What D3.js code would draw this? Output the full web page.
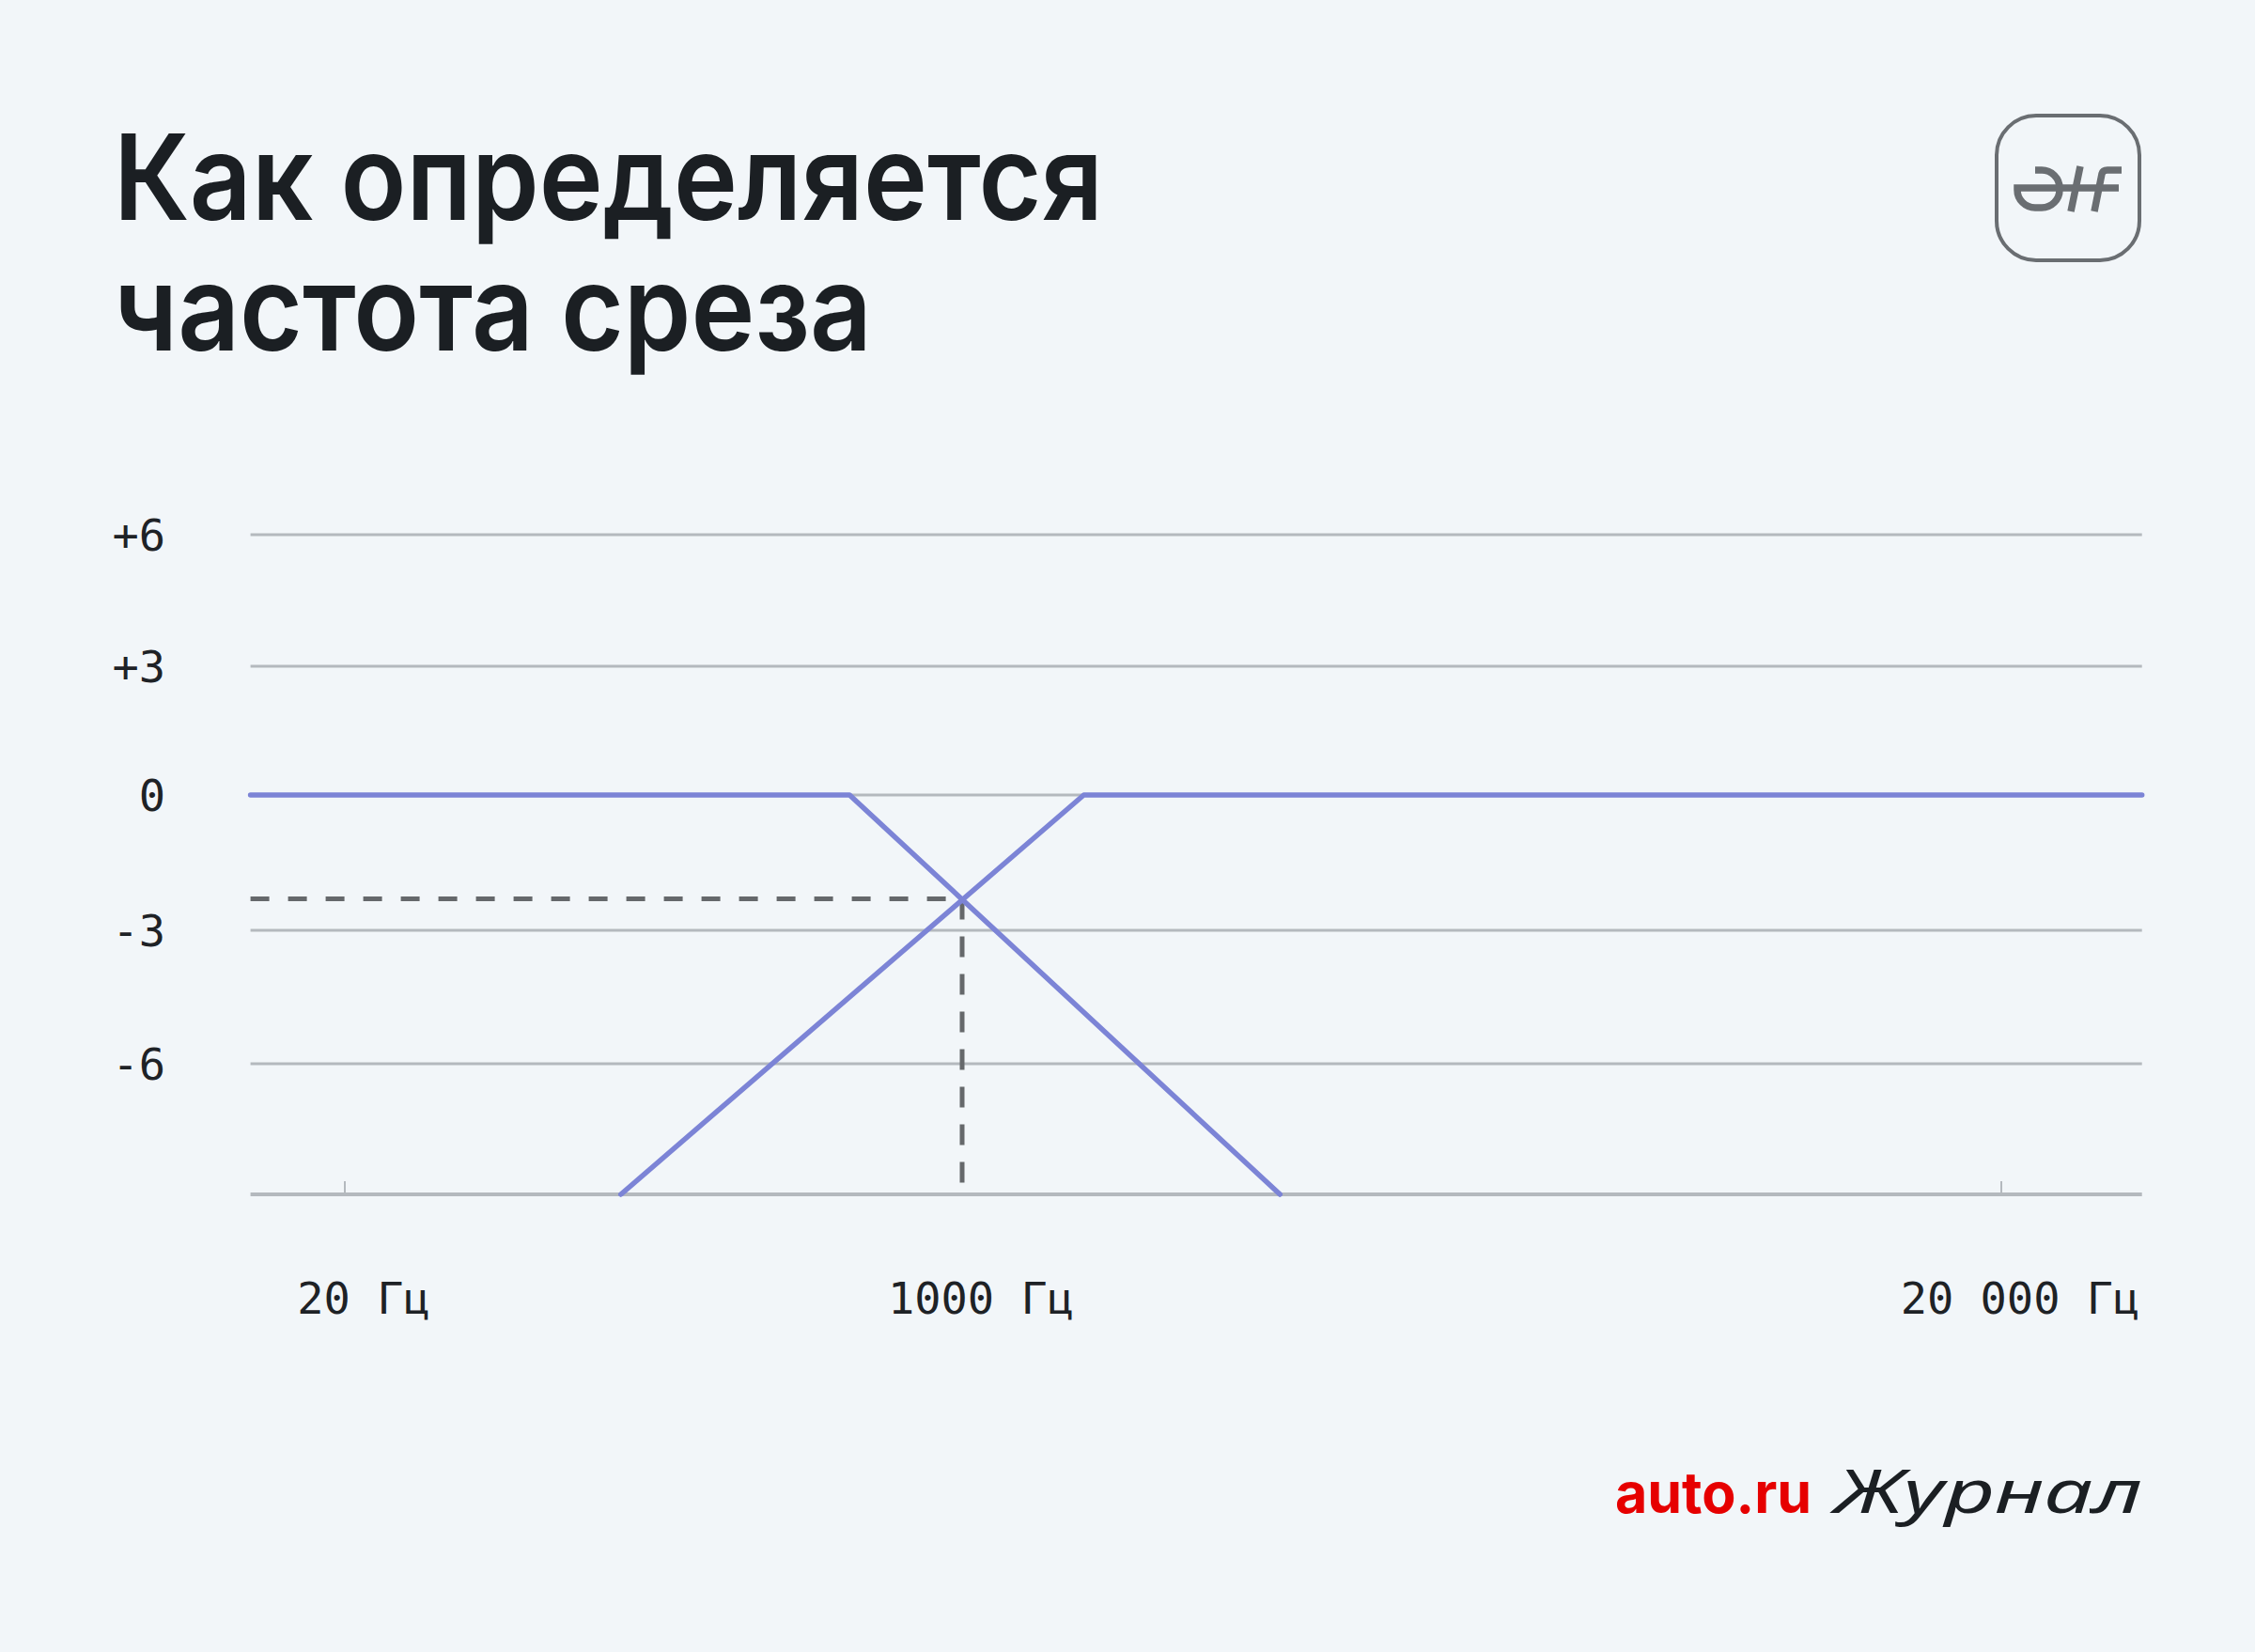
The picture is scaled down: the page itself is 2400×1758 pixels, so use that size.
<!DOCTYPE html>
<html>
<head>
<meta charset="utf-8">
<style>
    body { margin: 0; background: #f2f6f9; }
    svg { display: block; }
    .title { font-family: Inter, "Noto Sans", sans-serif; font-weight: 600; font-size: 127px; fill: #1b1f23; }
    .tick-label { font-family: "DejaVu Sans Mono", monospace; font-size: 47px; fill: #1e2226; }
    .grid line { stroke: #b4b9be; stroke-width: 3px; }
</style>
</head>
<body>
<script src="https://cdn.jsdelivr.net/npm/d3@7"></script>
<script>
    // data
    let titleLines = ["Как определяется", "частота среза"];

    let yTicks = [6, 3, 0, -3, -6];
    let yTickLabels = ["+6", "+3", "0", "-3", "-6"];
    let yMin = -9;

    let xMin = 11, xMax = 30000;              // Hz, edges of the plot
    let xTicks = [20, 1000, 20000];
    let xTickLabels = ["20 Гц", "1000 Гц", "20 000 Гц"];
    let xTickMarks = [20, 20000];

    // [Hz, dB]
    let lowPass  = [[11, 0], [490, 0], [2500, -9]];
    let highPass = [[115, -9], [1420, 0], [30000, 0]];
    let cutoff   = [1000, -2.3];

    let w = 2400, h = 1758;

    let svg = d3.select("body").append("svg")
        .attr("width", w)
        .attr("height", h);

    svg.append("rect").attr("width", w).attr("height", h).attr("fill", "#f2f6f9");

    // title, squeezed to the narrower face of the original
    let titleWidths = [1053, 807];
    svg.append("g").selectAll("text")
        .data(titleLines)
        .enter().append("text")
            .attr("class", "title")
            .attr("x", 121)
            .attr("y", function(d, i) { return 234 + i * 139; })
            .attr("textLength", function(d, i) { return titleWidths[i]; })
            .attr("lengthAdjust", "spacingAndGlyphs")
            .text(function(d) { return d; });

    // scales: the picture is schematic, so both axes are piecewise
    let x = d3.scaleLog()
        .domain([20, 1000, 20000])
        .range([367, 1024, 2130]);
    let y = d3.scaleLinear()
        .domain([-9, -6, -3, 0, 3, 6])
        .range([1271, 1132, 990, 846, 709, 569]);

    let x0 = x(xMin), x1 = x(xMax);

    // grid
    let grid = svg.append("g").attr("class", "grid");
    grid.selectAll("line")
        .data(yTicks)
        .enter().append("line")
            .attr("x1", x0).attr("x2", x1)
            .attr("y1", function(d) { return y(d); })
            .attr("y2", function(d) { return y(d); });

    // bottom axis
    svg.append("line")
        .attr("x1", x0).attr("x2", x1)
        .attr("y1", y(yMin)).attr("y2", y(yMin))
        .attr("stroke", "#b4b9be")
        .attr("stroke-width", 4);

    svg.append("g").selectAll("line")
        .data(xTickMarks)
        .enter().append("line")
            .attr("x1", function(d) { return x(d); })
            .attr("x2", function(d) { return x(d); })
            .attr("y1", y(yMin))
            .attr("y2", y(yMin) - 14)
            .attr("stroke", "#b4b9be")
            .attr("stroke-width", 2);

    // y labels
    svg.append("g").selectAll("text")
        .data(yTicks)
        .enter().append("text")
            .attr("class", "tick-label")
            .attr("x", 176)
            .attr("y", function(d) { return y(d); })
            .attr("text-anchor", "end")
            .attr("dominant-baseline", "central")
            .text(function(d, i) { return yTickLabels[i]; });

    // x labels
    svg.append("g").selectAll("text")
        .data(xTicks)
        .enter().append("text")
            .attr("class", "tick-label")
            .attr("x", function(d) { return x(d) + 20; })
            .attr("y", 1398)
            .attr("text-anchor", "middle")
            .text(function(d, i) { return xTickLabels[i]; });

    // cutoff guides
    let guideStyle = function(sel) {
        sel.attr("stroke", "#65686b")
           .attr("stroke-width", 5)
           .attr("stroke-dasharray", "20 20");
    };
    svg.append("line")
        .attr("x1", x0).attr("x2", x(cutoff[0]))
        .attr("y1", y(cutoff[1])).attr("y2", y(cutoff[1]))
        .call(guideStyle);
    svg.append("line")
        .attr("x1", x(cutoff[0])).attr("x2", x(cutoff[0]))
        .attr("y1", y(cutoff[1])).attr("y2", y(yMin))
        .call(guideStyle)
        .attr("stroke-dasharray", "22 18");

    // filter curves
    let line = d3.line()
        .x(function(d) { return x(d[0]); })
        .y(function(d) { return y(d[1]); });

    svg.append("g").selectAll("path")
        .data([lowPass, highPass])
        .enter().append("path")
            .attr("d", line)
            .attr("fill", "none")
            .attr("stroke", "#7c84d6")
            .attr("stroke-width", 5.5)
            .attr("stroke-linecap", "round")
            .attr("stroke-linejoin", "round");

    // top-right badge
    let badge = svg.append("g")
        .attr("transform", "translate(2123,121)")
        .attr("fill", "none")
        .attr("stroke", "#6a6e72");
    badge.append("rect")
        .attr("x", 2).attr("y", 2)
        .attr("width", 152).attr("height", 154)
        .attr("rx", 42)
        .attr("stroke-width", 4);
    badge.append("path")
        .attr("d", "M43,60 H50 A19,19 0 0 1 69,79 V81 A19,19 0 0 1 50,100 H43 A19,19 0 0 1 24,81 V79 H132")
        .attr("stroke-width", 7.5);
    badge.append("path")
        .attr("d", "M91,56 L81,104 M106,104 L114,64 Q115,60 120,60 H135")
        .attr("stroke-width", 7.5);

    // footer
    svg.append("text")
        .attr("x", 1719)
        .attr("y", 1610)
        .attr("font-family", "Inter, sans-serif")
        .attr("font-weight", 700)
        .attr("font-size", 60)
        .attr("fill", "#e60000")
        .attr("textLength", 209)
        .attr("lengthAdjust", "spacingAndGlyphs")
        .text("auto.ru");
    svg.append("text")
        .attr("x", 1952)
        .attr("y", 1610)
        .attr("font-family", "'Noto Sans', sans-serif")
        .attr("font-style", "italic")
        .attr("font-weight", 400)
        .attr("font-size", 64)
        .attr("fill", "#1b1f23")
        .attr("textLength", 328)
        .attr("lengthAdjust", "spacingAndGlyphs")
        .text("Журнал");
</script>
</body>
</html>
